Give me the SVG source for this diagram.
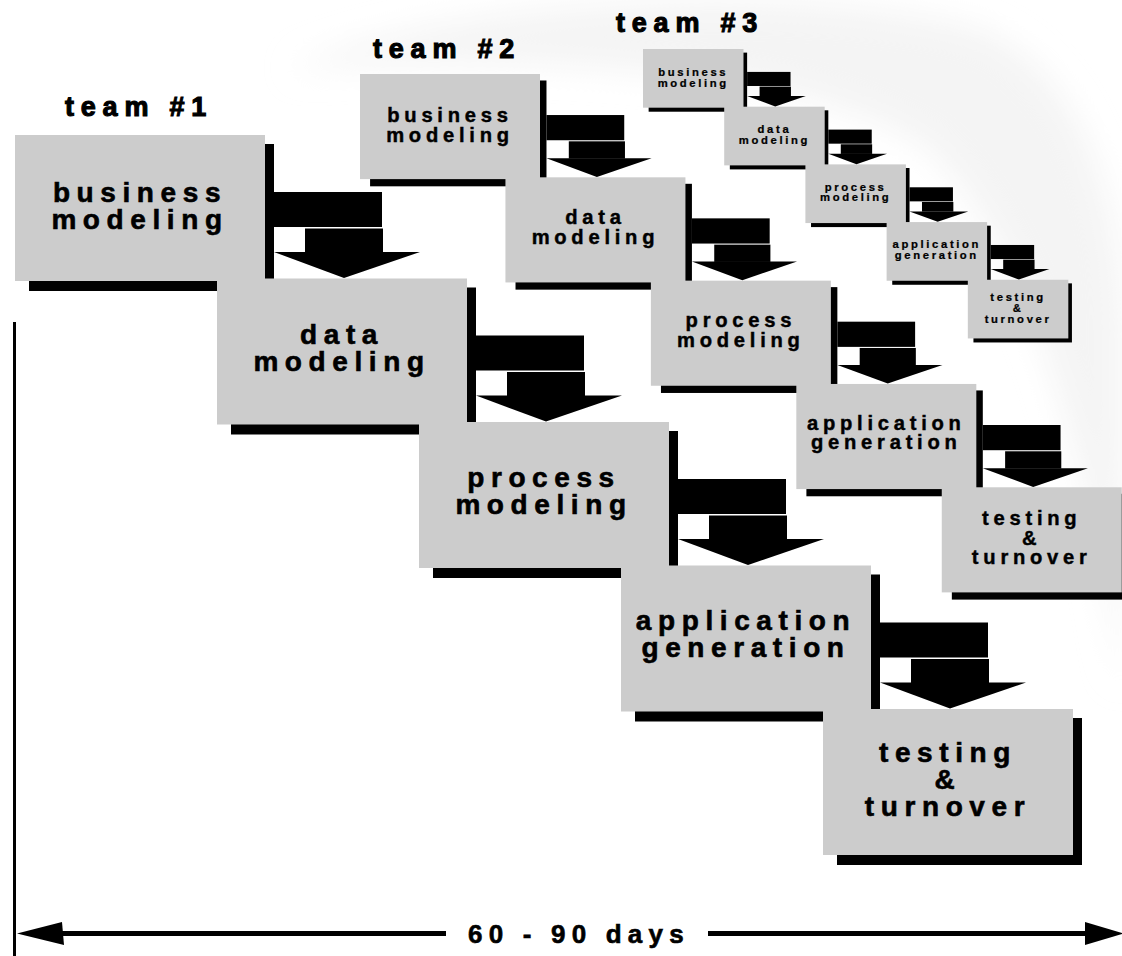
<svg xmlns="http://www.w3.org/2000/svg" xmlns:xlink="http://www.w3.org/1999/xlink" width="1122" height="956" viewBox="0 0 1122 956">
  <style>
    .box { fill: #cccccc; }
    .shadow { fill: #000000; }
    .lbl { font-family: "Liberation Sans", Arial, sans-serif; font-weight: bold; font-size: 28px; letter-spacing: 6.6px; text-anchor: middle; fill: #000000; stroke: #000000; stroke-width: 0.6px; }
    .title { font-family: "Liberation Sans", Arial, sans-serif; font-weight: bold; font-size: 27px; letter-spacing: 6.8px; fill: #000000; stroke: #000000; stroke-width: 1.1px; }
    .days { font-family: "Liberation Sans", Arial, sans-serif; font-weight: bold; font-size: 26px; letter-spacing: 6.2px; fill: #000000; stroke: #000000; stroke-width: 0.6px; }
    .arrow { fill: #000000; }
    .span { stroke: #000000; stroke-width: 5; fill: none; }
  </style>
  <defs>
    <filter id="soft" x="-20%" y="-20%" width="140%" height="140%">
      <feGaussianBlur stdDeviation="16"/>
    </filter>
    <!-- bent step arrow, anchored at the right/top corner of the box it leaves -->
    <g id="step-arrow" class="arrow">
      <rect x="9" y="57" width="108" height="35"/>
      <rect x="40" y="93.5" width="78" height="24"/>
      <polygon points="9,117 155,117 79,143"/>
    </g>
  </defs>

  <rect width="1122" height="956" fill="#ffffff"/>

  <!-- faint background swoosh -->
  <g id="swoosh" filter="url(#soft)">
    <path d="M 290 70 C 430 0 800 -20 980 30 C 1080 70 1122 200 1122 330 L 1122 690 C 1090 480 1040 260 930 150 C 820 70 520 50 290 70 Z" fill="#f4f4f4"/>
  </g>

  <!-- team headings -->
  <text class="title" x="65" y="116">team #1</text>
  <text class="title" x="373" y="58">team #2</text>
  <text class="title" x="616" y="32">team #3</text>

  <!-- team 1 : full-size steps -->
  <g id="team1" transform="translate(15,135)">
    <g id="t1-business">
      <rect class="shadow" x="14" y="9" width="245" height="147"/>
      <rect class="box" x="0" y="0" width="250" height="146"/>
      <text class="lbl"><tspan x="125" y="67">business</tspan><tspan x="125" y="94">modeling</tspan></text>
    </g>
    <g id="t1-data">
      <rect class="shadow" x="216" y="152.5" width="245" height="147"/>
      <rect class="box" x="202" y="143.5" width="250" height="146"/>
      <text class="lbl"><tspan x="327" y="208.5">data</tspan><tspan x="327" y="235.5">modeling</tspan></text>
    </g>
    <g id="t1-process">
      <rect class="shadow" x="418" y="296" width="245" height="147"/>
      <rect class="box" x="404" y="287" width="250" height="146"/>
      <text class="lbl"><tspan x="529" y="352">process</tspan><tspan x="529" y="379">modeling</tspan></text>
    </g>
    <g id="t1-application">
      <rect class="shadow" x="620" y="439.5" width="245" height="147"/>
      <rect class="box" x="606" y="430.5" width="250" height="146"/>
      <text class="lbl"><tspan x="731" y="494.5">application</tspan><tspan x="731" y="521.5">generation</tspan></text>
    </g>
    <g id="t1-testing">
      <rect class="shadow" x="822" y="583" width="245" height="147"/>
      <rect class="box" x="808" y="574" width="250" height="146"/>
      <text class="lbl"><tspan x="933" y="627">testing</tspan><tspan x="933" y="654">&amp;</tspan><tspan x="933" y="681">turnover</tspan></text>
    </g>
  </g>

  <!-- team 2 : same steps at 72% -->
  <g id="team2" transform="translate(360,74) scale(0.72)">
    <g id="t2-business">
      <rect class="shadow" x="14" y="9" width="245" height="147"/>
      <rect class="box" x="0" y="0" width="250" height="146"/>
      <text class="lbl"><tspan x="125" y="67">business</tspan><tspan x="125" y="94">modeling</tspan></text>
    </g>
    <g id="t2-data">
      <rect class="shadow" x="216" y="152.5" width="245" height="147"/>
      <rect class="box" x="202" y="143.5" width="250" height="146"/>
      <text class="lbl"><tspan x="327" y="208.5">data</tspan><tspan x="327" y="235.5">modeling</tspan></text>
    </g>
    <g id="t2-process">
      <rect class="shadow" x="418" y="296" width="245" height="147"/>
      <rect class="box" x="404" y="287" width="250" height="146"/>
      <text class="lbl"><tspan x="529" y="352">process</tspan><tspan x="529" y="379">modeling</tspan></text>
    </g>
    <g id="t2-application">
      <rect class="shadow" x="620" y="439.5" width="245" height="147"/>
      <rect class="box" x="606" y="430.5" width="250" height="146"/>
      <text class="lbl"><tspan x="731" y="494.5">application</tspan><tspan x="731" y="521.5">generation</tspan></text>
    </g>
    <g id="t2-testing">
      <rect class="shadow" x="822" y="583" width="245" height="147"/>
      <rect class="box" x="808" y="574" width="250" height="146"/>
      <text class="lbl"><tspan x="933" y="627">testing</tspan><tspan x="933" y="654">&amp;</tspan><tspan x="933" y="681">turnover</tspan></text>
    </g>
  </g>

  <!-- team 3 : same steps at 40% -->
  <g id="team3" transform="translate(643,49) scale(0.402)">
    <g id="t3-business">
      <rect class="shadow" x="14" y="9" width="245" height="147"/>
      <rect class="box" x="0" y="0" width="250" height="146"/>
      <text class="lbl"><tspan x="125" y="67">business</tspan><tspan x="125" y="94">modeling</tspan></text>
    </g>
    <g id="t3-data">
      <rect class="shadow" x="216" y="152.5" width="245" height="147"/>
      <rect class="box" x="202" y="143.5" width="250" height="146"/>
      <text class="lbl"><tspan x="327" y="208.5">data</tspan><tspan x="327" y="235.5">modeling</tspan></text>
    </g>
    <g id="t3-process">
      <rect class="shadow" x="418" y="296" width="245" height="147"/>
      <rect class="box" x="404" y="287" width="250" height="146"/>
      <text class="lbl"><tspan x="529" y="352">process</tspan><tspan x="529" y="379">modeling</tspan></text>
    </g>
    <g id="t3-application">
      <rect class="shadow" x="620" y="439.5" width="245" height="147"/>
      <rect class="box" x="606" y="430.5" width="250" height="146"/>
      <text class="lbl"><tspan x="731" y="494.5">application</tspan><tspan x="731" y="521.5">generation</tspan></text>
    </g>
    <g id="t3-testing">
      <rect class="shadow" x="822" y="583" width="245" height="147"/>
      <rect class="box" x="808" y="574" width="250" height="146"/>
      <text class="lbl"><tspan x="933" y="627">testing</tspan><tspan x="933" y="654">&amp;</tspan><tspan x="933" y="681">turnover</tspan></text>
    </g>
  </g>

  <!-- step arrows between consecutive boxes -->
  <g id="connectors">
    <g transform="translate(15,135)">
      <use xlink:href="#step-arrow" x="250" y="0"/>
      <use xlink:href="#step-arrow" x="452" y="143.5"/>
      <use xlink:href="#step-arrow" x="654" y="287"/>
      <use xlink:href="#step-arrow" x="856" y="430.5"/>
    </g>
    <g transform="translate(360,74) scale(0.72)">
      <use xlink:href="#step-arrow" x="250" y="0"/>
      <use xlink:href="#step-arrow" x="452" y="143.5"/>
      <use xlink:href="#step-arrow" x="654" y="287"/>
      <use xlink:href="#step-arrow" x="856" y="430.5"/>
    </g>
    <g transform="translate(643,49) scale(0.402)">
      <use xlink:href="#step-arrow" x="250" y="0"/>
      <use xlink:href="#step-arrow" x="452" y="143.5"/>
      <use xlink:href="#step-arrow" x="654" y="287"/>
      <use xlink:href="#step-arrow" x="856" y="430.5"/>
    </g>
  </g>

  <!-- time span axis -->
  <g id="timeline">
    <line x1="14.5" y1="322" x2="14.5" y2="956" stroke="#000000" stroke-width="3"/>
    <line class="span" x1="55" y1="933.5" x2="446" y2="933.5"/>
    <line class="span" x1="708" y1="933.5" x2="1090" y2="933.5"/>
    <polygon class="arrow" points="17,933.5 62,922 64,945"/>
    <polygon class="arrow" points="1124,933.5 1085,922 1085,945"/>
    <text class="days" x="468" y="943">60 - 90 days</text>
  </g>
</svg>
